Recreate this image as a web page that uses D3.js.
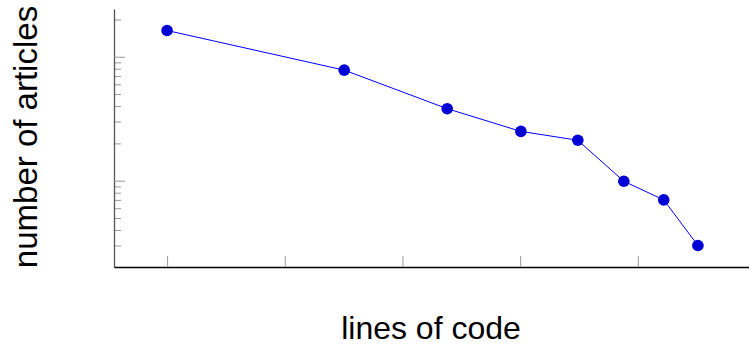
<!DOCTYPE html>
<html>
<head>
<meta charset="utf-8">
<script src="https://cdn.jsdelivr.net/npm/d3@7"></script>
<style>
  body { margin: 0; background: #fff; }
  text { font-family: "Liberation Sans", Arial, sans-serif; }
</style>
</head>
<body>
<div id="chart"></div>
<script>
// data (log-log, no tick labels in the original)
var linesOfCode = [1, 32, 240, 1015, 3090, 7600, 16600, 32400];
var articles = [1629, 780, 381, 250, 212, 99, 70, 30];

var xMajorTicks = [1, 10, 100, 1000, 10000];
var yMajorTicks = [100, 1000];
var yMinorTicks = [30, 40, 50, 60, 70, 80, 90, 200, 300, 400, 500, 600, 700, 800, 900, 2000];

var xTitle = "lines of code";
var yTitle = "number of articles";

var svgWidth = 749;
var svgHeight = 345;

// plot area in pixels
var plotLeft = 114, plotRight = 751, plotTop = 9, plotBottom = 267;

var svg = d3.select("#chart")
  .append("svg")
  .attr("width", svgWidth)
  .attr("height", svgHeight);

// enlarge the log limits by 10% like pgfplots does
function enlarged(values) {
  var lo = Math.log10(d3.min(values));
  var hi = Math.log10(d3.max(values));
  var pad = (hi - lo) * 0.1;
  return [Math.pow(10, lo - pad), Math.pow(10, hi + pad)];
}

var x = d3.scaleLog().domain(enlarged(linesOfCode)).range([plotLeft, plotRight]);
var y = d3.scaleLog().domain(enlarged(articles)).range([plotBottom, plotTop]);

// y ticks, drawn inward
var yMinorAxis = svg.append("g")
  .attr("transform", "translate(" + plotLeft + ",0)")
  .call(d3.axisRight(y).tickValues(yMinorTicks).tickSize(7).tickFormat(""));
var yMajorAxis = svg.append("g")
  .attr("transform", "translate(" + plotLeft + ",0)")
  .call(d3.axisRight(y).tickValues(yMajorTicks).tickSize(11).tickSizeOuter(0).tickFormat(""));

// x ticks, drawn inward
var xAxis = svg.append("g")
  .attr("transform", "translate(0," + plotBottom + ")")
  .call(d3.axisTop(x).tickValues(xMajorTicks).tickSize(11).tickSizeOuter(0).tickFormat(""));

svg.selectAll(".tick line").attr("stroke", "#999").attr("stroke-width", 1);
yMinorAxis.select(".domain").remove();
yMajorAxis.select(".domain").attr("stroke", "#555").attr("stroke-width", 1.3);
xAxis.select(".domain").attr("stroke", "#000").attr("stroke-width", 1.3);

var points = linesOfCode.map(function(d, i) {
  return { loc: d, n: articles[i] };
});

var line = d3.line()
  .x(function(d) { return x(d.loc); })
  .y(function(d) { return y(d.n); });

svg.append("path")
  .datum(points)
  .attr("d", line)
  .attr("fill", "none")
  .attr("stroke", "#0000ff")
  .attr("stroke-width", 1);

svg.selectAll("circle")
  .data(points)
  .enter()
  .append("circle")
  .attr("cx", function(d) { return x(d.loc); })
  .attr("cy", function(d) { return y(d.n); })
  .attr("r", 5.8)
  .attr("fill", "#0000d6");

// axis titles
svg.append("text")
  .attr("x", 431)
  .attr("y", 339)
  .attr("text-anchor", "middle")
  .style("font-size", "32px")
  .text(xTitle);

svg.append("text")
  .attr("transform", "translate(37,137) rotate(-90)")
  .attr("text-anchor", "middle")
  .style("font-size", "33px")
  .text(yTitle);
</script>
</body>
</html>
